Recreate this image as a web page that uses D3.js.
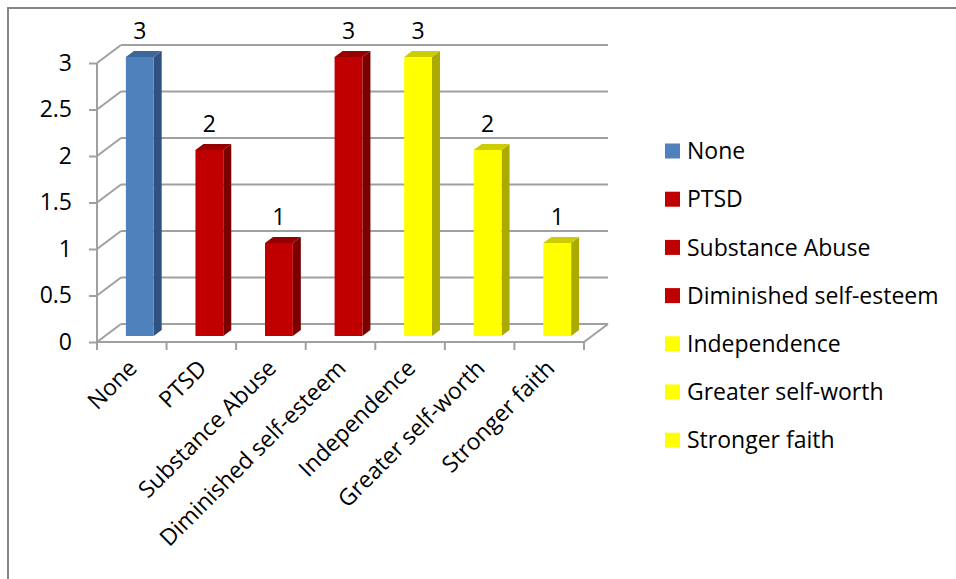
<!DOCTYPE html>
<html>
<head>
<meta charset="utf-8">
<script src="https://cdn.jsdelivr.net/npm/d3@7"></script>
<style>
  html, body { margin: 0; padding: 0; background: #fff; }
  svg { display: block; font-family: "Open Sans", sans-serif; }
</style>
</head>
<body>
<svg id="chart" width="956" height="579"></svg>
<script>
// Categories and their counts
const categories = ["None", "PTSD", "Substance Abuse", "Diminished self-esteem",
                    "Independence", "Greater self-worth", "Stronger faith"];
const values = [3, 2, 1, 3, 3, 2, 1];
const groups = ["none", "negative", "negative", "negative", "positive", "positive", "positive"];
const yTicks = [0, 0.5, 1, 1.5, 2, 2.5, 3];

// Face colours for each group: front, side, top
const palette = {
  none:     { front: "#4f81bd", side: "#2f5283", top: "#3b679c" },
  negative: { front: "#c00000", side: "#7a0000", top: "#960000" },
  positive: { front: "#ffff00", side: "#aaaa00", top: "#cccc00" }
};

const svg = d3.select("#chart");
const FONT = 23;

// Front plane of the 3-D plot box
const x = d3.scaleBand().domain(categories).range([97, 584]);
const y = d3.scaleLinear().domain([0, 3]).range([342, 63]);
// Depth of the box (back wall offset)
const DX = 24, DY = -18;
const shift = (px, py, t) => [px + DX * t, py + DY * t];

// Outer frame (left and top edges)
svg.append("path")
  .attr("d", "M8,579 L8,8 L956,8")
  .attr("fill", "none").attr("stroke", "#868686").attr("stroke-width", 2);

const grid = svg.append("g").attr("stroke", "#a0a0a0").attr("stroke-width", 2).attr("fill", "none");
const x0 = x.range()[0], x1 = x.range()[1];

// Back-wall gridlines plus the diagonal on the left side wall
yTicks.forEach(v => {
  const [bx0, by] = shift(x0, y(v), 1);
  const [bx1] = shift(x1, y(v), 1);
  grid.append("line").attr("x1", bx0).attr("y1", by).attr("x2", bx1).attr("y2", by);
  grid.append("line").attr("x1", x0).attr("y1", y(v)).attr("x2", bx0).attr("y2", by);
});
// Floor: front edge and right diagonal
{
  const [bx1, by1] = shift(x1, y(0), 1);
  grid.append("line").attr("x1", x0).attr("y1", y(0)).attr("x2", x1).attr("y2", y(0));
  grid.append("line").attr("x1", x1).attr("y1", y(0)).attr("x2", bx1).attr("y2", by1);
}

// Front value axis
const yAxis = svg.append("g").attr("transform", `translate(${x0},0)`)
  .call(d3.axisLeft(y).tickValues(yTicks).tickSize(8).tickPadding(17)
        .tickFormat(d => String(d)));
yAxis.select(".domain").attr("stroke", "#a0a0a0").attr("stroke-width", 2)
  .attr("d", `M0,${y(3)}V${y(0)}`);
yAxis.selectAll(".tick line").attr("stroke", "#a0a0a0").attr("stroke-width", 2);
yAxis.selectAll(".tick text").attr("fill", "#000").attr("font-size", FONT)
  .attr("font-family", "'Open Sans', sans-serif");

// Category tick marks on the front floor edge
const edges = categories.map(c => x(c)).concat([x1]);
svg.append("g").selectAll("line").data(edges).join("line")
  .attr("x1", d => d).attr("x2", d => d)
  .attr("y1", y(0)).attr("y2", y(0) + 8)
  .attr("stroke", "#a0a0a0").attr("stroke-width", 2);

// Rotated category labels
svg.append("g").selectAll("text").data(categories).join("text")
  .attr("transform", d => `translate(${x(d) + x.bandwidth() / 2 + 1},${y(0) + 22}) rotate(-45)`)
  .attr("text-anchor", "end")
  .attr("dy", "0.35em")
  .attr("font-size", FONT)
  .attr("fill", "#000")
  .text(d => d);

// 3-D bars: front face at 1/3 of the depth, back face at 2/3
const BAR_W = x.bandwidth() * 0.4;
const tFront = 1 / 3, tBack = 2 / 3;
const bars = svg.append("g");
categories.forEach((c, i) => {
  const col = palette[groups[i]];
  const cx = x(c) + x.bandwidth() / 2;
  const [fl, fb] = shift(cx - BAR_W / 2, y(0), tFront);
  const [fr] = shift(cx + BAR_W / 2, y(0), tFront);
  const [, ft] = shift(cx, y(values[i]), tFront);
  const ddx = DX * (tBack - tFront), ddy = DY * (tBack - tFront);
  const poly = pts => pts.map(p => p.join(",")).join(" ");
  // side face
  bars.append("polygon").attr("fill", col.side)
    .attr("points", poly([[fr, fb], [fr + ddx, fb + ddy], [fr + ddx, ft + ddy], [fr, ft]]));
  // top face
  bars.append("polygon").attr("fill", col.top)
    .attr("points", poly([[fl, ft], [fr, ft], [fr + ddx, ft + ddy], [fl + ddx, ft + ddy]]));
  // front face
  bars.append("rect").attr("fill", col.front)
    .attr("x", fl).attr("y", ft).attr("width", fr - fl).attr("height", fb - ft);
  // value label
  bars.append("text")
    .attr("x", (fl + fr) / 2).attr("y", ft + ddy - 12)
    .attr("text-anchor", "middle").attr("font-size", FONT).attr("fill", "#000")
    .text(values[i]);
});

// Legend
const legend = svg.append("g").attr("transform", "translate(665,151)");
const rows = legend.selectAll("g").data(categories).join("g")
  .attr("transform", (d, i) => `translate(0,${i * 48.2})`);
rows.append("rect").attr("x", 0).attr("y", -7.5).attr("width", 15).attr("height", 15)
  .attr("fill", (d, i) => palette[groups[i]].front);
rows.append("text").attr("x", 22).attr("dy", "0.36em")
  .attr("font-size", FONT).attr("fill", "#000").text(d => d);
</script>
</body>
</html>
